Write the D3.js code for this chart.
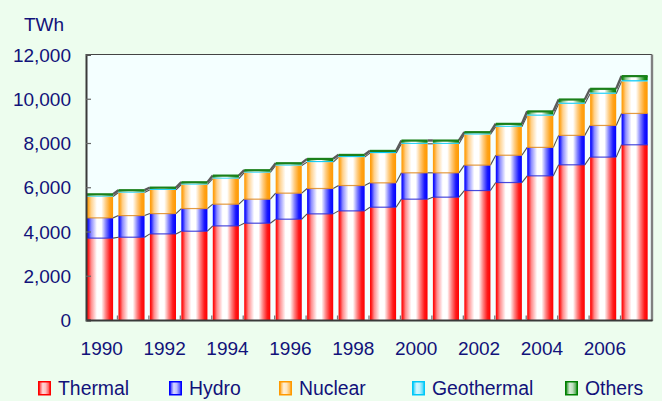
<!DOCTYPE html>
<html>
<head>
<meta charset="utf-8">
<script src="https://cdn.jsdelivr.net/npm/d3@7/dist/d3.min.js"></script>
<style>
  html, body { margin: 0; padding: 0; background: #EDFDEE; }
  svg { display: block; }
  text { font-family: "Liberation Sans", Arial, sans-serif; fill: #12127a; }
</style>
</head>
<body>
<svg id="chart" width="662" height="401"></svg>
<script>
// ---- data (TWh) ----
const years = ["1990","1991","1992","1993","1994","1995","1996","1997","1998","1999",
               "2000","2001","2002","2003","2004","2005","2006","2007"];
const thermal    = [3700,3742,3892,4013,4254,4375,4556,4797,4932,5098,5461,5552,5851,6213,6516,7014,7362,7919];
const hydro      = [ 916, 978, 918,1024, 981,1086,1177,1146,1146,1101,1191,1100,1149,1234,1286,1331,1431,1417];
const nuclear    = [ 964,1040,1073,1087,1160,1204,1250,1193,1284,1344,1312,1312,1385,1288,1435,1429,1434,1448];
const geothermal = [  40,  45,  45,  45,  45,  45,  47,  48,  48,  50,  50,  50,  52,  52,  55,  56,  57,  58];
const others     = [  65,  65,  59,  61,  90,  64,  60, 101,  56,  54, 100, 100,  57,  83, 141, 140, 169, 185];
const yTicks = [0, 2000, 4000, 6000, 8000, 10000, 12000];
const xLabels = ["1990","1992","1994","1996","1998","2000","2002","2004","2006"];
const seriesNames = ["Thermal","Hydro","Nuclear","Geothermal","Others"];
const seriesColors = ["#FF0000","#0000FF","#FF9900","#00C8F8","#008000"];
const unitLabel = "TWh";

const table = years.map((y, i) => ({
  year: y, Thermal: thermal[i], Hydro: hydro[i], Nuclear: nuclear[i],
  Geothermal: geothermal[i], Others: others[i]
}));

const svg = d3.select("#chart");
const W = 662, H = 401;
const plot = { left: 86, right: 652, top: 54.5, bottom: 320 };

svg.append("rect").attr("width", W).attr("height", H).attr("fill", "#EDFDEE");

const x = d3.scaleBand().domain(years).range([plot.left, plot.right]).padding(0);
const y = d3.scaleLinear().domain([0, 12000]).range([plot.bottom, plot.top]);
const bw = x.bandwidth();
const barW = bw * 0.83;
const barOff = 1;

// gradients
const defs = svg.append("defs");
seriesNames.forEach((name, i) => {
  const mix = t => d3.interpolateRgb(seriesColors[i], "#ffffff")(t);
  const g = defs.append("linearGradient").attr("id", "g" + i)
    .attr("x1", 0).attr("x2", 1).attr("y1", 0).attr("y2", 0);
  [[0, mix(0)], [0.06, mix(0.15)], [0.16, mix(0.55)], [0.38, "#ffffff"], [0.55, "#ffffff"],
   [0.72, mix(0.5)], [0.88, mix(0.1)], [1, mix(0)]].forEach(([o, col]) => {
    g.append("stop").attr("offset", o).attr("stop-color", col);
  });
  const gl = defs.append("linearGradient").attr("id", "l" + i)
    .attr("x1", 0).attr("x2", 1).attr("y1", 0).attr("y2", 0);
  [[0, mix(0.1)], [0.35, mix(0.85)], [0.6, mix(0.75)], [1, mix(0.2)]].forEach(([o, col]) => {
    gl.append("stop").attr("offset", o).attr("stop-color", col);
  });
});

// plot area background
svg.append("rect").attr("x", plot.left).attr("y", plot.top)
  .attr("width", plot.right - plot.left).attr("height", plot.bottom - plot.top)
  .attr("fill", "#F4FFFF");

const stack = d3.stack().keys(seriesNames);
const layers = stack(table);

// series lines (connectors between adjacent bars)
const lineG = svg.append("g");
layers.forEach((layer, li) => {
  if (li === 3) return; // geothermal merges with top
  const isTop = li === layers.length - 1;
  for (let i = 0; i < layer.length - 1; i++) {
    lineG.append("line")
      .attr("x1", x(years[i]) + barOff + barW)
      .attr("y1", y(layer[i][1]))
      .attr("x2", x(years[i + 1]) + barOff)
      .attr("y2", y(layer[i + 1][1]))
      .attr("stroke", isTop ? "#5a5a5a" : "#505050")
      .attr("stroke-width", isTop ? 2.4 : 1.1);
  }
});

// bars
const barG = svg.append("g");
layers.forEach((layer, li) => {
  barG.append("g").selectAll("rect").data(layer).join("rect")
    .attr("x", (d, i) => x(years[i]) + barOff)
    .attr("width", barW)
    .attr("y", d => y(d[1]))
    .attr("height", d => Math.max(y(d[0]) - y(d[1]), 0))
    .attr("fill", li === 3 ? seriesColors[3] : `url(#g${li})`);
  if (li > 0 && li < 3) {
    barG.append("g").selectAll("line").data(layer).join("line")
      .attr("x1", (d, i) => x(years[i]) + barOff)
      .attr("x2", (d, i) => x(years[i]) + barOff + barW)
      .attr("y1", d => y(d[0]))
      .attr("y2", d => y(d[0]))
      .attr("stroke", li === 1 ? "#2a2ad8" : "#e08a20")
      .attr("stroke-width", 1.2)
      .attr("opacity", 0.85);
  }
});
// top caps (green rim)
barG.append("g").selectAll("rect").data(layers[layers.length - 1]).join("rect")
  .attr("x", (d, i) => x(years[i]) + barOff)
  .attr("width", barW)
  .attr("y", d => y(d[1]) - 1)
  .attr("height", 2.2)
  .attr("fill", "#1a801a");

// plot border
svg.append("line").attr("x1", plot.left).attr("x2", plot.right)
  .attr("y1", plot.top).attr("y2", plot.top).attr("stroke", "#444").attr("stroke-width", 1);
svg.append("line").attr("x1", plot.right).attr("x2", plot.right)
  .attr("y1", plot.top).attr("y2", plot.bottom + 1).attr("stroke", "#808080").attr("stroke-width", 2.4);

// y axis
const yAxis = d3.axisLeft(y).tickValues(yTicks).tickSize(-5).tickPadding(16)
  .tickFormat(d3.format(","));
const yg = svg.append("g").attr("transform", `translate(${plot.left},0)`).call(yAxis);
yg.select(".domain").attr("stroke", "#3a3a3a").attr("stroke-width", 2);
yg.selectAll(".tick line").attr("stroke", "#666").attr("stroke-width", 1.2);
yg.selectAll(".tick text").attr("font-size", 19).attr("fill", "#12127a")
  .attr("x", -15).attr("dy", "0.35em")
  .style("font-family", "'Liberation Sans', Arial, sans-serif");

// x axis
const xAxis = d3.axisBottom(x).tickSize(0).tickPadding(20)
  .tickFormat(d => xLabels.includes(d) ? d : "");
const xg = svg.append("g").attr("transform", `translate(0,${plot.bottom})`).call(xAxis);
xg.select(".domain").attr("stroke", "#3a3a3a").attr("stroke-width", 2);
xg.selectAll(".tick text").attr("font-size", 19).attr("fill", "#12127a")
  .attr("y", 35).attr("dy", 0)
  .style("font-family", "'Liberation Sans', Arial, sans-serif");
// x ticks at band boundaries, pointing up
xg.append("g").selectAll("line").data(years.slice(1)).join("line")
  .attr("x1", d => x(d)).attr("x2", d => x(d))
  .attr("y1", 0).attr("y2", -4.5)
  .attr("stroke", "#777").attr("stroke-width", 1.3);

// unit label
svg.append("text").attr("x", 24).attr("y", 31).attr("font-size", 19).text(unitLabel);

// legend
const legendX = [38, 169, 279, 412, 565];
const lg = svg.append("g");
seriesNames.forEach((name, i) => {
  const gI = lg.append("g").attr("transform", `translate(${legendX[i]},381)`);
  gI.append("rect").attr("x", 0.75).attr("y", 0.75).attr("width", 11.5).attr("height", 13)
    .attr("fill", `url(#l${i})`).attr("stroke", seriesColors[i]).attr("stroke-width", 1.5);
  gI.append("text").attr("x", 20).attr("y", 14.3).attr("font-size", 19.4).text(name);
});
</script>
</body>
</html>
